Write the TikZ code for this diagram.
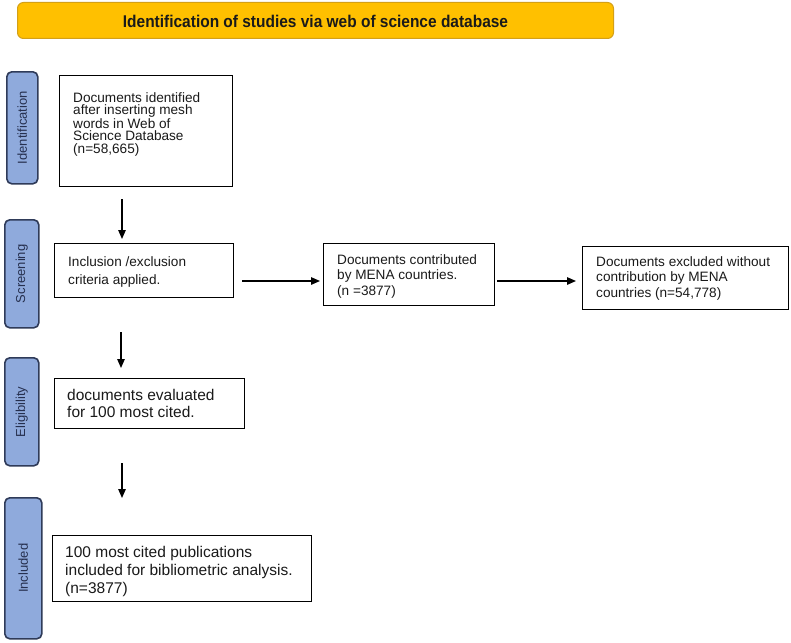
\documentclass[tikz,border=0pt]{standalone}
\usepackage{fontspec}
\setmainfont{Liberation Sans}
\newfontfamily\bannerfont[FakeStretch=0.91]{Liberation Sans}
\usetikzlibrary{arrows.meta}
\definecolor{gold}{HTML}{FFC000}
\definecolor{goldedge}{HTML}{D4A017}
\definecolor{stagefill}{HTML}{8FAADC}
\definecolor{stageedge}{HTML}{2F3B59}
\definecolor{stagetext}{HTML}{26304F}
\definecolor{boxtext}{HTML}{1A1A1A}
\begin{document}
\begin{tikzpicture}[x=1pt,y=-1pt,
  stage/.style={draw=stageedge,line width=1.6pt,fill=stagefill,rounded corners=5pt},
  stagelabel/.style={rotate=90,text=stagetext,font=\fontsize{13}{14}\selectfont,inner sep=0pt},
  box/.style={draw=black,line width=1.4pt,fill=white},
  txt/.style={align=left,anchor=north west,inner sep=0pt,text=boxtext},
  small/.style={font=\fontsize{13.6}{12.6}\selectfont},
  smallb/.style={font=\fontsize{13.6}{15.5}\selectfont},
  smallc/.style={font=\fontsize{13.6}{18.5}\selectfont},
  big/.style={font=\fontsize{15.5}{17.5}\selectfont},
  bigb/.style={font=\fontsize{15.5}{18}\selectfont},
  arr/.style={line width=1.3pt,-{Triangle[length=9pt,width=7.5pt]}}
]
\useasboundingbox (0,0) rectangle (791,642);
\fill[white] (0,0) rectangle (791,642);

% banner
\node[draw=goldedge,line width=1pt,fill=gold,rounded corners=6pt,
  minimum width=596,minimum height=36,anchor=north west,inner sep=0pt] (banner) at (17,2) {};
\node[inner sep=0pt,font=\bannerfont\bfseries\fontsize{17}{18}\selectfont,text=boxtext]
  (bannert) at ([yshift=-0.5]banner.center) {Identification of studies via web of science database};

% stage labels
\node[stage,minimum width=31,minimum height=112,anchor=north west,inner sep=0pt] (s1) at (6,71) {};
\node[stagelabel] (s1t) at (s1.center) {Identification};
\node[stage,minimum width=34,minimum height=108,anchor=north west,inner sep=0pt] (s2) at (4,219) {};
\node[stagelabel] (s2t) at (s2.center) {Screening};
\node[stage,minimum width=34,minimum height=108,anchor=north west,inner sep=0pt] (s3) at (4,357) {};
\node[stagelabel] (s3t) at (s3.center) {Eligibility};
\node[stage,minimum width=37,minimum height=141,anchor=north west,inner sep=0pt] (s4) at (4,497) {};
\node[stagelabel] (s4t) at (s4.center) {Included};

% boxes
\node[box,minimum width=173,minimum height=111,anchor=north west,inner sep=0pt] (b1) at (59,75) {};
\node[txt,small] (b1t) at (73,92) {Documents identified\\after inserting mesh\\words in Web of\\Science Database\\(n=58,665)};

\node[box,minimum width=179,minimum height=54,anchor=north west,inner sep=0pt] (b2) at (54,243) {};
\node[txt,smallc] (b2t) at (68,256) {Inclusion /exclusion\\criteria applied.};

\node[box,minimum width=171,minimum height=62,anchor=north west,inner sep=0pt] (b3) at (323,243) {};
\node[txt,smallb] (b3t) at (337,254) {Documents contributed\\by MENA countries.\\(n =3877)};

\node[box,minimum width=206,minimum height=63,anchor=north west,inner sep=0pt] (b4) at (582,246) {};
\node[txt,smallb] (b4t) at (596,256) {Documents excluded without\\contribution by MENA\\countries (n=54,778)};

\node[box,minimum width=190,minimum height=50,anchor=north west,inner sep=0pt] (b5) at (54,378) {};
\node[txt,big] (b5t) at (67,389) {documents evaluated\\for 100 most cited.};

\node[box,minimum width=259,minimum height=66,anchor=north west,inner sep=0pt] (b6) at (52,535) {};
\node[txt,bigb] (b6t) at (65,546) {100 most cited publications\\included for bibliometric analysis.\\(n=3877)};

% arrow end points
\coordinate (a1s) at (122,199);
\coordinate (a1e) at (122,239);
\coordinate (a2s) at (121,332);
\coordinate (a2e) at (121,368);
\coordinate (a3s) at (122,463);
\coordinate (a3e) at (122,498);
\coordinate (h1s) at (242,281);
\coordinate (h1e) at (320,281);
\coordinate (h2s) at (497,281);
\coordinate (h2e) at (576,281);

\draw[arr] (a1s) -- (a1e);
\draw[arr] (a2s) -- (a2e);
\draw[arr] (a3s) -- (a3e);
\draw[arr] (h1s) -- (h1e);
\draw[arr] (h2s) -- (h2e);
\end{tikzpicture}
\end{document}
